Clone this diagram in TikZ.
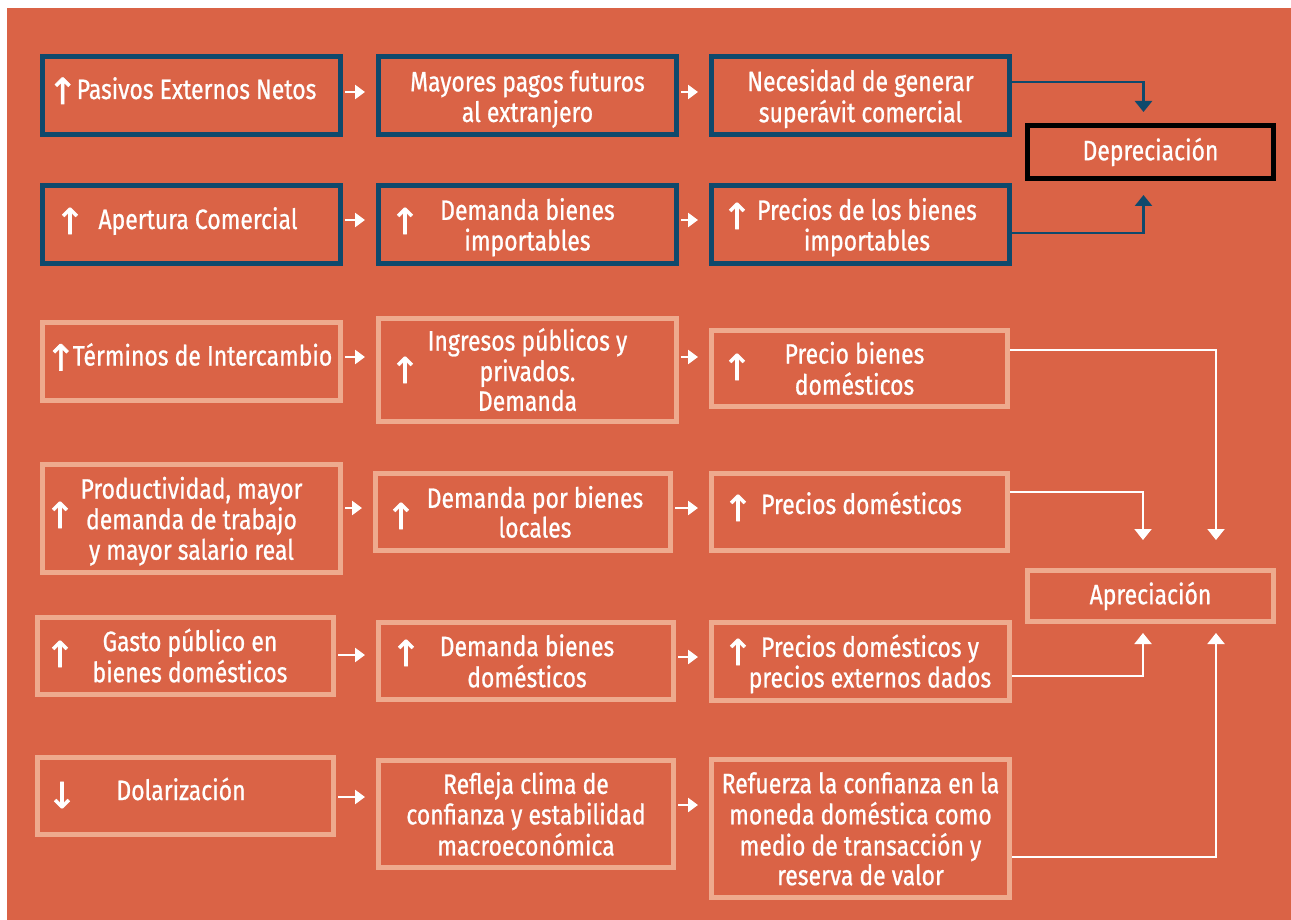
\documentclass[tikz,border=0pt]{standalone}
\usepackage{fontspec}
\setmainfont{Fira Sans}[FakeStretch=0.82, FakeBold=0.8]
\newfontfamily\arrowfont{DejaVu Sans}[FakeBold=1.5]
\usetikzlibrary{arrows.meta,positioning}
\definecolor{fondo}{RGB}{218,99,70}
\definecolor{azul}{RGB}{14,73,108}
\definecolor{claro}{RGB}{238,170,142}
\newcommand{\arrUp}[1]{\raisebox{-5pt}[0pt][0pt]{\arrowfont\fontsize{36}{29}\selectfont ↑}\kern#1pt}
\newcommand{\boxtext}[2][0]{\hspace*{#1pt}\begin{tabular}{@{}c@{}}\rule{0pt}{30pt}#2\end{tabular}}
\newcommand{\oneline}[2]{\raisebox{#1pt}[0pt][0pt]{#2}}

\begin{document}
\begin{tikzpicture}[
  x=1pt, y=-1pt,
  azulbox/.style={draw=azul, line width=5pt, minimum width=298pt, minimum height=78pt,
                  inner sep=0pt, text=white, font=\fontsize{28}{29}\selectfont},
  clarobox/.style={azulbox, draw=claro},
  negrobox/.style={azulbox, draw=black, minimum width=246pt, minimum height=53pt},
  signo/.style={text=white, inner sep=0pt, font=\arrowfont\fontsize{36}{36}\selectfont},
  hop/.style={white, line width=2.5pt, -{Triangle[width=14pt,length=10pt]},
              shorten <=2pt, shorten >=11pt},
  azulline/.style={azul, line width=2.5pt, -{Triangle[width=17pt,length=11pt]}},
  blancaline/.style={white, line width=2pt, -{Triangle[width=17pt,length=11pt]}},
]
\useasboundingbox (0,0) rectangle (1291,920);
\fill[fondo] (7,8) rectangle (1291,920);

% Row 1: blue boxes
\node[azulbox] (pen) at (191.5,96) {\oneline{-3}{\hspace*{-19pt}\arrUp{-1}Pasivos Externos Netos}};
\node[azulbox] (pag) at (527.5,96) {\boxtext{Mayores pagos futuros\\al extranjero}};
\node[azulbox] (nec) at (860.5,96) {\boxtext{Necesidad de generar\\superávit comercial}};

% Row 2: blue boxes
\node[azulbox] (ape) at (191.5,224.5) {\oneline{-4.5}{\hspace*{13pt}Apertura Comercial}};
\node[azulbox] (dem) at (527.5,224.5) {\boxtext{Demanda bienes\\importables}};
\node[azulbox] (pre) at (860.5,224.5) {\boxtext[13]{Precios de los bienes\\importables}};

% Depreciacion
\node[negrobox] (dep) at (1150.5,152) {Depreciación};

% Row 3
\node[clarobox] (ter) at (191.5,361.5) {\oneline{-4}{\hspace*{-5pt}\arrUp{-3}Términos de Intercambio}};
\node[clarobox, minimum height=103pt] (ing) at (527.5,370)
  {\boxtext{Ingresos públicos y\\privados.\\Demanda}};
\node[clarobox, minimum width=296pt, minimum height=76pt] (prb) at (859.5,368.5)
  {\boxtext[-10]{Precio bienes\\domésticos}};

% Row 4
\node[clarobox, minimum height=108pt] (pro) at (191.5,518.5)
  {\boxtext{Productividad, mayor\\demanda de trabajo\\y mayor salario real}};
\node[clarobox, minimum width=295pt, minimum height=77pt] (dpb) at (523,512)
  {\boxtext[24]{Demanda por bienes\\locales}};
\node[clarobox, minimum width=296pt, minimum height=77pt] (pdo) at (859.5,512)
  {\oneline{-2}{\hspace*{4pt}Precios domésticos}};

% Apreciacion
\node[clarobox, minimum width=246pt, minimum height=51pt] (apr) at (1150.5,596) {Apreciación};

% Row 5
\node[clarobox, minimum width=296pt, minimum height=77pt] (gas) at (185.5,656)
  {\boxtext[9]{Gasto público en\\bienes domésticos}};
\node[clarobox, minimum width=295pt, minimum height=77pt] (dbd) at (526,661)
  {\boxtext[2]{Demanda bienes\\domésticos}};
\node[clarobox] (pdy) at (860.5,661.5)
  {\boxtext[19]{Precios domésticos y\\precios externos dados}};

% Row 6
\node[clarobox, minimum width=296pt, minimum height=77pt] (dol) at (185.5,796)
  {\oneline{-4}{\hspace*{-9pt}Dolarización}};
\node[clarobox, minimum width=295pt, minimum height=107pt] (ref) at (526,814)
  {\boxtext{Refleja clima de\\confianza y estabilidad\\macroeconómica}};
\node[clarobox, minimum height=138pt] (rfz) at (860.5,828.5)
  {\boxtext{Refuerza la confianza en la\\moneda doméstica como\\medio de transacción y\\reserva de valor}};

% Arrow signs inside boxes
\node[signo] (s-ape) at (70,221) {↑};
\node[signo] (s-dem) at (405,221) {↑};
\node[signo] (s-pre) at (737,216) {↑};
\node[signo] (s-ing) at (405,370) {↑};
\node[signo] (s-prb) at (737,367) {↑};
\node[signo] (s-pro) at (60,515) {↑};
\node[signo] (s-dpb) at (401,516) {↑};
\node[signo] (s-pdo) at (738,508) {↑};
\node[signo] (s-gas) at (60,654) {↑};
\node[signo] (s-dbd) at (406,653) {↑};
\node[signo] (s-pdy) at (738,652) {↑};
\node[signo] (s-dol) at (62,795) {↓};

% Arrows between columns
\draw[hop] ([yshift=4]pen.east) -- ([yshift=4]pen.east -| pag.west);
\draw[hop] ([yshift=4]pag.east) -- ([yshift=4]pag.east -| nec.west);
\draw[hop] ([yshift=4.5]ape.east) -- ([yshift=4.5]ape.east -| dem.west);
\draw[hop] ([yshift=4.5]dem.east) -- ([yshift=4.5]dem.east -| pre.west);
\draw[hop] ([yshift=4.5]ter.east) -- ([yshift=4.5]ter.east -| ing.west);
\draw[hop] ([yshift=13]ing.east) -- ([yshift=13]ing.east -| prb.west);
\draw[hop] ([yshift=10.5]pro.east) -- ([yshift=10.5]pro.east -| dpb.west);
\draw[hop] ([yshift=4]dpb.east) -- ([yshift=4]dpb.east -| pdo.west);
\draw[hop] ([yshift=1]gas.east) -- ([yshift=1]gas.east -| dbd.west);
\draw[hop] ([yshift=4]dbd.east) -- ([yshift=4]dbd.east -| pdy.west);
\draw[hop] ([yshift=-1]dol.east) -- ([yshift=-1]dol.east -| ref.west);
\draw[hop] ([yshift=9]ref.east) -- ([yshift=9]ref.east -| rfz.west);

% Connectors to Depreciacion
\draw[azulline] ([yshift=14]nec.east) -| ([xshift=-7,yshift=11]dep.north);
\draw[azulline] ([yshift=-8.5]pre.east) -| ([xshift=-7,yshift=-14]dep.south);

% Connectors to Apreciacion
\draw[blancaline] ([yshift=18.5]prb.east) -| ([xshift=65.5,yshift=28]apr.north);
\draw[blancaline] ([yshift=20]pdo.east) -| ([xshift=-7.5,yshift=28]apr.north);
\draw[blancaline] ([yshift=-14.5]pdy.east) -| ([xshift=-7.5,yshift=-9]apr.south);
\draw[blancaline] ([yshift=-28.5]rfz.east) -| ([xshift=65.5,yshift=-9]apr.south);
\end{tikzpicture}
\end{document}
